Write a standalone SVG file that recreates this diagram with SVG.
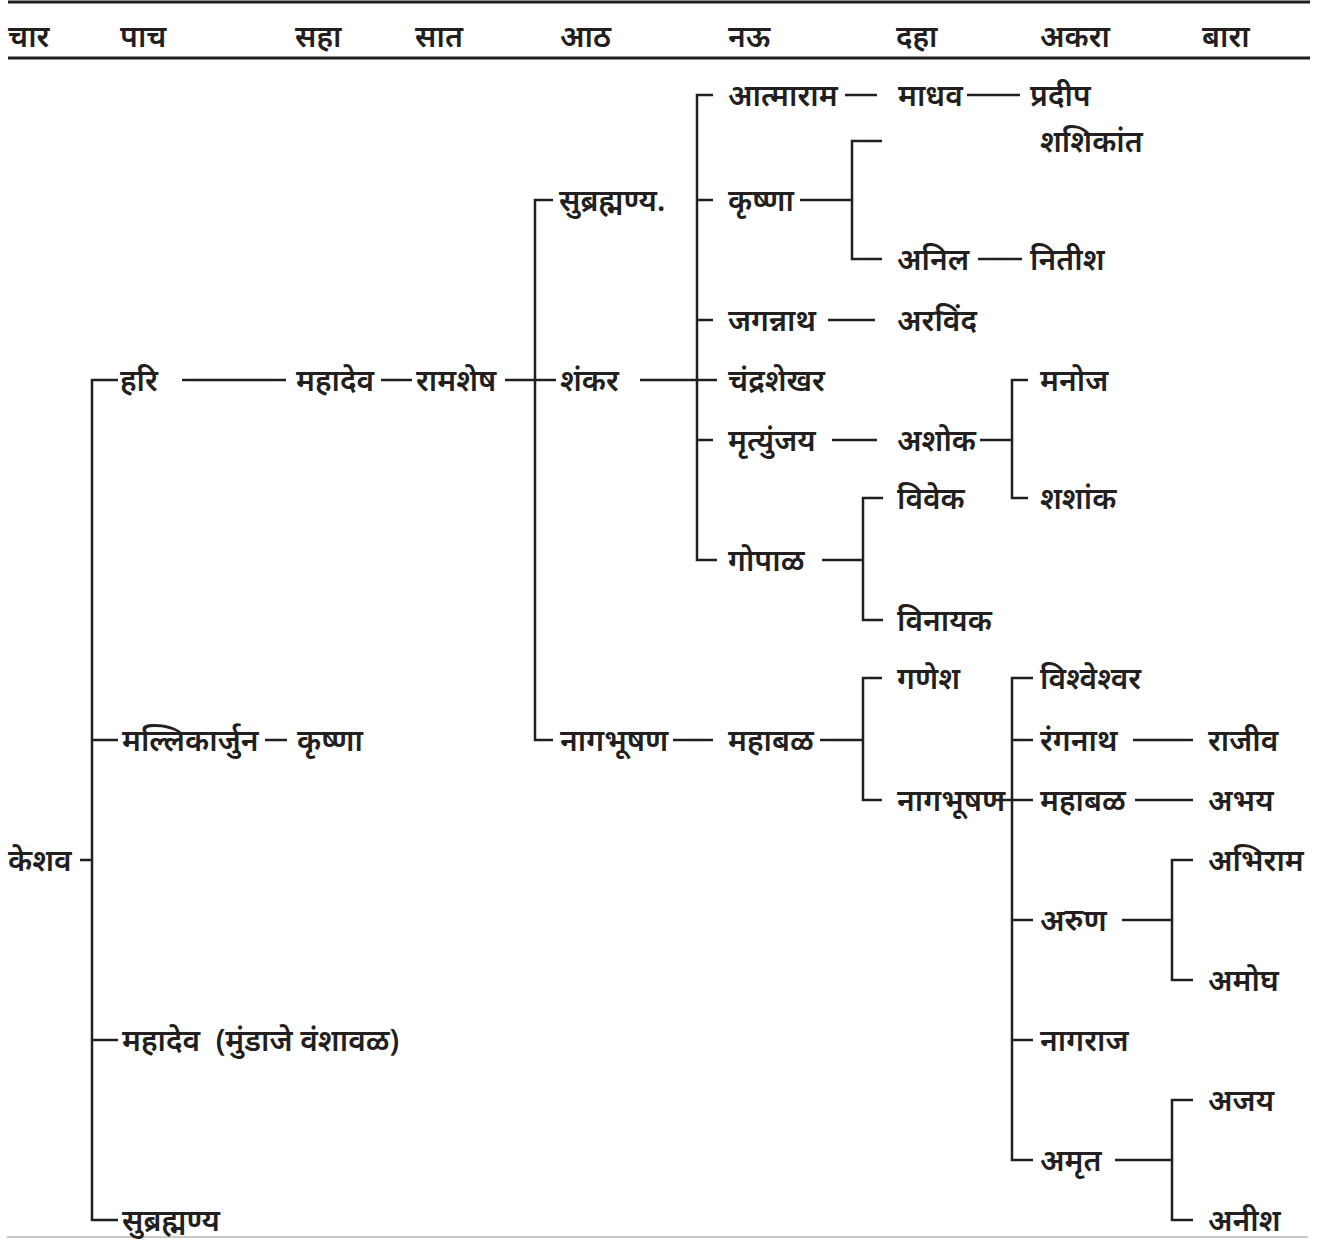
<svg xmlns="http://www.w3.org/2000/svg" width="1329" height="1246" viewBox="0 0 1329 1246">
<style>
text{font-family:"Noto Sans","Noto Sans Devanagari",sans-serif;font-size:30px;font-weight:600;fill:#231f20;white-space:pre}
.c path{fill:none;stroke:#231f20;stroke-width:2.5}
.rule{stroke:#231f20;stroke-width:3}
</style>
<rect width="1329" height="1246" fill="#fff"/>
<g id="header">
<line class="rule" x1="8" y1="2" x2="1310" y2="2"/>
<line class="rule" x1="8" y1="58" x2="1310" y2="58"/>
<line x1="7" y1="1237" x2="1308" y2="1237" stroke="#c8c8c8" stroke-width="2"/>
<text x="8" y="47">चार</text>
<text x="120" y="47">पाच</text>
<text x="295" y="47">सहा</text>
<text x="415" y="47">सात</text>
<text x="560" y="47">आठ</text>
<text x="728" y="47">नऊ</text>
<text x="896" y="47">दहा</text>
<text x="1040" y="47">अकरा</text>
<text x="1202" y="47">बारा</text>
</g>
<g class="c" id="connectors">
<path d="M80 860H92"/>
<path d="M118 380H92V1220H118M92 740H118M92 1040H118"/>
<path d="M182 380H286M381 380H412M505 380H556"/>
<path d="M553 200H535V740H553"/>
<path d="M640 380H717"/>
<path d="M713 95H697V560H717M697 200H713M697 320H713M697 440H713"/>
<path d="M845 95H877M967 95H1020"/>
<path d="M800 200H852M882 141H852V259H882"/>
<path d="M978 259H1022"/>
<path d="M828 320H875"/>
<path d="M832 440H877"/>
<path d="M980 440H1012M1028 380H1012V498H1028"/>
<path d="M822 560H863M883 498H863V620H883"/>
<path d="M265 740H287"/>
<path d="M673 740H713"/>
<path d="M820 740H863M882 678H863V800H882"/>
<path d="M993 800H1033M1033 678H1012V1160H1033M1012 740H1033M1012 920H1033M1012 1040H1033"/>
<path d="M1133 740H1193M1135 800H1193"/>
<path d="M1122 920H1172M1193 860H1172V980H1193"/>
<path d="M1115 1160H1172M1193 1100H1172V1220H1193"/>
</g>
<g id="n-keshav"><text x="8" y="871">केशव</text></g>
<g id="n-hari"><text x="120" y="391">हरि</text></g>
<g id="n-mallikarjun"><text x="122" y="751">मल्लिकार्जुन</text></g>
<g id="n-mahadev-mundaje"><text x="122" y="1051">महादेव  (मुंडाजे वंशावळ)</text></g>
<g id="n-subrahmanya-1"><text x="122" y="1231">सुब्रह्मण्य</text></g>
<g id="n-mahadev"><text x="296" y="391">महादेव</text></g>
<g id="n-krishna-1"><text x="297" y="751">कृष्णा</text></g>
<g id="n-ramshesh"><text x="416" y="391">रामशेष</text></g>
<g id="n-subrahmanya-2"><text x="559" y="211">सुब्रह्मण्य.</text></g>
<g id="n-shankar"><text x="560" y="391">शंकर</text></g>
<g id="n-nagbhushan-1"><text x="560" y="751">नागभूषण</text></g>
<g id="n-atmaram"><text x="728" y="106">आत्माराम</text></g>
<g id="n-krishna-2"><text x="728" y="211">कृष्णा</text></g>
<g id="n-jagannath"><text x="728" y="331">जगन्नाथ</text></g>
<g id="n-chandrashekhar"><text x="728" y="391">चंद्रशेखर</text></g>
<g id="n-mrityunjay"><text x="728" y="451">मृत्युंजय</text></g>
<g id="n-gopal"><text x="728" y="571">गोपाळ</text></g>
<g id="n-mahabal-1"><text x="728" y="751">महाबळ</text></g>
<g id="n-madhav"><text x="898" y="106">माधव</text></g>
<g id="n-anil"><text x="897" y="270">अनिल</text></g>
<g id="n-arvind"><text x="897" y="331">अरविंद</text></g>
<g id="n-ashok"><text x="897" y="451">अशोक</text></g>
<g id="n-vivek"><text x="897" y="509">विवेक</text></g>
<g id="n-vinayak"><text x="897" y="631">विनायक</text></g>
<g id="n-ganesh"><text x="897" y="689">गणेश</text></g>
<g id="n-nagbhushan-2"><text x="897" y="811">नागभूषण</text></g>
<g id="n-pradeep"><text x="1030" y="106">प्रदीप</text></g>
<g id="n-shashikant"><text x="1040" y="152">शशिकांत</text></g>
<g id="n-nitish"><text x="1030" y="270">नितीश</text></g>
<g id="n-manoj"><text x="1040" y="391">मनोज</text></g>
<g id="n-shashank"><text x="1040" y="509">शशांक</text></g>
<g id="n-vishveshwar"><text x="1040" y="689">विश्वेश्वर</text></g>
<g id="n-ranganath"><text x="1040" y="751">रंगनाथ</text></g>
<g id="n-mahabal-2"><text x="1040" y="811">महाबळ</text></g>
<g id="n-arun"><text x="1040" y="931">अरुण</text></g>
<g id="n-nagraj"><text x="1040" y="1051">नागराज</text></g>
<g id="n-amrut"><text x="1040" y="1171">अमृत</text></g>
<g id="n-rajeev"><text x="1208" y="751">राजीव</text></g>
<g id="n-abhay"><text x="1208" y="811">अभय</text></g>
<g id="n-abhiram"><text x="1208" y="871">अभिराम</text></g>
<g id="n-amogh"><text x="1208" y="991">अमोघ</text></g>
<g id="n-ajay"><text x="1208" y="1111">अजय</text></g>
<g id="n-aneesh"><text x="1208" y="1231">अनीश</text></g>
</svg>
